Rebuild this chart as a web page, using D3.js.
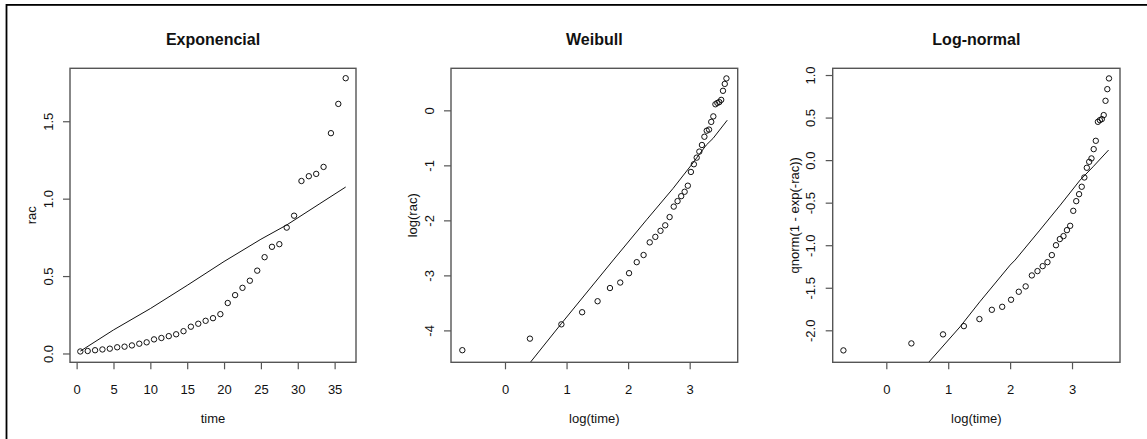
<!DOCTYPE html>
<html>
<head>
<meta charset="utf-8">
<script src="https://cdn.jsdelivr.net/npm/d3@7"></script>
<style>
  body { margin: 0; background: #fff; }
  text { font-family: "Liberation Sans", Arial, sans-serif; fill: #111; }
</style>
</head>
<body>
<svg id="chart" width="1147" height="439"></svg>
<script>
// observed times (interval midpoints) and their logs
const time = [0.5, 1.5, 2.5, 3.5, 4.5, 5.5, 6.5, 7.5, 8.5, 9.5, 10.5, 11.5, 12.5, 13.5, 14.5, 15.5, 16.5, 17.5, 18.5,
    19.5, 20.5, 21.5, 22.5, 23.5, 24.5, 25.5, 26.5, 27.5, 28.5, 29.5, 30.5, 31.5, 32.5, 33.5, 34.5, 35.5, 36.5];
const logTime = [-0.693, 0.405, 0.916, 1.253, 1.504, 1.705, 1.872, 2.015, 2.140, 2.251, 2.351, 2.442, 2.526, 2.603,
    2.674, 2.741, 2.803, 2.862, 2.918, 2.970, 3.020, 3.068, 3.114, 3.157, 3.199, 3.239, 3.277, 3.314, 3.350, 3.384,
    3.418, 3.450, 3.481, 3.512, 3.541, 3.570, 3.597];

// cumulative hazard (rac) and its transforms, read per panel
const rac = [0.013, 0.016, 0.021, 0.026, 0.031, 0.040, 0.044, 0.052, 0.063, 0.072, 0.091, 0.100, 0.112, 0.124, 0.144,
    0.173, 0.192, 0.211, 0.228, 0.254, 0.326, 0.377, 0.424, 0.470, 0.535, 0.622, 0.689, 0.706, 0.813, 0.890, 1.114,
    1.145, 1.160, 1.205, 1.423, 1.612, 1.778];
const logRac = [-4.36, -4.15, -3.89, -3.67, -3.47, -3.23, -3.13, -2.96, -2.76, -2.63, -2.40, -2.30, -2.19, -2.09, -1.94,
    -1.75, -1.65, -1.56, -1.48, -1.37, -1.12, -0.98, -0.86, -0.75, -0.63, -0.48, -0.37, -0.35, -0.21, -0.11, 0.11,
    0.135, 0.15, 0.19, 0.355, 0.48, 0.58];
const qnormRac = [-2.236, -2.154, -2.048, -1.951, -1.868, -1.759, -1.724, -1.641, -1.547, -1.484, -1.355, -1.304, -1.246,
    -1.199, -1.116, -1.000, -0.928, -0.893, -0.823, -0.772, -0.596, -0.482, -0.400, -0.313, -0.204, -0.090, -0.020,
    0.020, 0.129, 0.227, 0.450, 0.470, 0.482, 0.529, 0.697, 0.834, 0.960];

// fitted curves
const expLineX = [0.5, 5, 10, 15, 20, 25, 28.5, 33, 36.5];
const expLineY = [0.015, 0.152, 0.29, 0.44, 0.594, 0.738, 0.83, 0.968, 1.075];
const weibLineX = [0.405, 0.92, 1.76, 2.30, 2.73, 3.03, 3.27, 3.38, 3.61];
const weibLineY = [-4.59, -3.87, -2.72, -1.99, -1.42, -0.99, -0.63, -0.51, -0.18];
const lnLineX = [0.68, 1.19, 1.51, 2.0, 2.08, 2.48, 2.81, 3.13, 3.34, 3.59];
const lnLineY = [-2.38, -1.96, -1.665, -1.234, -1.175, -0.823, -0.529, -0.235, -0.078, 0.118];

// tick labels
const expXTicks = [0, 5, 10, 15, 20, 25, 30, 35];
const expYTicks = [0, 0.5, 1, 1.5];
const logXTicks = [0, 1, 2, 3];
const weibYTicks = [-4, -3, -2, -1, 0];
const lnYTicks = [-2, -1.5, -1, -0.5, 0, 0.5, 1];

const svg = d3.select("#chart");

// outer frame (right and bottom edges fall outside the picture)
svg.append("rect")
    .attr("x", 6.5).attr("y", 4.9)
    .attr("width", 1300).attr("height", 600)
    .attr("fill", "none").attr("stroke", "#000").attr("stroke-width", 1.8);

const plotTop = 68.3, plotBottom = 362.3;

const panels = [
    {title: "Exponencial", left: 70, right: 356, xDom: [-0.9, 37.9], yDom: [-0.057, 1.842],
     xs: time, ys: rac, lx: expLineX, ly: expLineY, xt: expXTicks, yt: expYTicks,
     yfmt: d => d.toFixed(1), xlab: "time", ylab: "rac"},
    {title: "Weibull", left: 451, right: 737.7, xDom: [-0.877, 3.78], yDom: [-4.58, 0.764],
     xs: logTime, ys: logRac, lx: weibLineX, ly: weibLineY, xt: logXTicks, yt: weibYTicks,
     yfmt: d => String(d), xlab: "log(time)", ylab: "log(rac)"},
    {title: "Log-normal", left: 832.7, right: 1120, xDom: [-0.866, 3.775], yDom: [-2.376, 1.079],
     xs: logTime, ys: qnormRac, lx: lnLineX, ly: lnLineY, xt: logXTicks, yt: lnYTicks,
     yfmt: d => d.toFixed(1), xlab: "log(time)", ylab: "qnorm(1 - exp(-rac))"}
];

panels.forEach((p, i) => {
    const x = d3.scaleLinear().domain(p.xDom).range([p.left, p.right]);
    const y = d3.scaleLinear().domain(p.yDom).range([plotBottom, plotTop]);
    const g = svg.append("g");

    g.append("clipPath").attr("id", "clip" + i)
        .append("rect")
        .attr("x", p.left).attr("y", plotTop)
        .attr("width", p.right - p.left).attr("height", plotBottom - plotTop);

    // fitted line
    const line = d3.line().x(d => x(d[0])).y(d => y(d[1]));
    g.append("path")
        .datum(p.lx.map((v, k) => [v, p.ly[k]]))
        .attr("d", line)
        .attr("clip-path", `url(#clip${i})`)
        .attr("fill", "none")
        .attr("stroke", "#111")
        .attr("stroke-width", 1);

    // observed points
    g.selectAll("circle")
        .data(p.xs.map((v, k) => [v, p.ys[k]]))
        .enter()
        .append("circle")
        .attr("cx", d => x(d[0]))
        .attr("cy", d => y(d[1]))
        .attr("r", 2.7)
        .attr("fill", "none")
        .attr("stroke", "#111")
        .attr("stroke-width", 1);

    // x axis
    const xa = g.append("g")
        .attr("transform", `translate(0,${plotBottom})`)
        .call(d3.axisBottom(x).tickValues(p.xt).tickSize(7).tickFormat(d => String(d)));
    xa.select(".domain").remove();
    xa.selectAll("line").attr("stroke", "#555").attr("stroke-width", 1.2);
    xa.selectAll("text")
        .attr("y", 31.5).attr("dy", 0)
        .style("font-size", "13px")
        .attr("fill", "#111");

    // y axis, labels parallel to the axis
    const ya = g.append("g")
        .attr("transform", `translate(${p.left},0)`)
        .call(d3.axisLeft(y).tickValues(p.yt).tickSize(7).tickFormat(p.yfmt));
    ya.select(".domain").remove();
    ya.selectAll("line").attr("stroke", "#555").attr("stroke-width", 1.2);
    ya.selectAll("text")
        .attr("x", 0).attr("dy", 0)
        .attr("transform", "translate(-17.5,0) rotate(-90)")
        .attr("text-anchor", "middle")
        .style("font-size", "13px")
        .attr("fill", "#111");

    // box
    g.append("rect")
        .attr("x", p.left).attr("y", plotTop)
        .attr("width", p.right - p.left).attr("height", plotBottom - plotTop)
        .attr("fill", "none").attr("stroke", "#555").attr("stroke-width", 1.4);

    const cx = (p.left + p.right) / 2;
    g.append("text")
        .attr("x", cx).attr("y", 45.3)
        .attr("text-anchor", "middle")
        .style("font-size", "16px")
        .style("font-weight", "bold")
        .text(p.title);

    g.append("text")
        .attr("x", cx).attr("y", 423.3)
        .attr("text-anchor", "middle")
        .style("font-size", "13px")
        .text(p.xlab);

    g.append("text")
        .attr("transform", `translate(${p.left - 34},${(plotTop + plotBottom) / 2}) rotate(-90)`)
        .attr("text-anchor", "middle")
        .style("font-size", "13px")
        .text(p.ylab);
});
</script>
</body>
</html>
